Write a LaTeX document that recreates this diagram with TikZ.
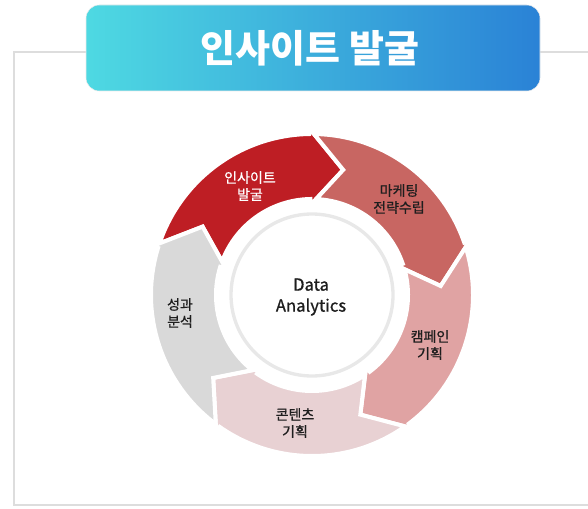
\documentclass[tikz,border=0pt]{standalone}
\usepackage{fontspec}
\setmainfont{Noto Sans CJK KR}
\newfontfamily\labelfont[FakeBold=0.8]{Noto Sans CJK KR}
\definecolor{insight}{HTML}{BE1E24}
\definecolor{strategy}{HTML}{C86662}
\definecolor{campaign}{HTML}{E0A3A3}
\definecolor{content}{HTML}{E8D1D3}
\definecolor{analysis}{HTML}{D9D9D9}
\definecolor{bannerleft}{HTML}{4ED9E2}
\definecolor{bannerright}{HTML}{2A82D6}
\definecolor{framegray}{HTML}{DDDDDD}
\definecolor{labeltext}{HTML}{1E1E1E}
\begin{document}
\begin{tikzpicture}[x=0.75pt,y=0.75pt]
      \useasboundingbox (0,0) rectangle (588,508);
      \draw[framegray,line width=1.5pt] (600,455.5) -- (14,455.5) -- (14,3) -- (600,3);
      \shade[left color=bannerleft,right color=bannerright,rounded corners=10,draw=black!8]
        (86,417) rectangle (540,503);
      \node[font=\bfseries\fontsize{28.5}{30}\selectfont,text=white] (title) at (310,460) {인사이트 발굴};
      \begin{scope}[shift={(312,213)}]
        \foreach \tip/\col in {76/insight,4/strategy,-68/campaign,-140/content,-212/analysis}
          \filldraw[fill=\col,draw=white,line width=3pt]
            ({\tip+85.3}:161) arc[start angle=\tip+85.3,end angle=\tip+15,radius=161]
            -- ({\tip+15}:167) -- (\tip:129) -- ({\tip+15}:90) -- ({\tip+15}:96)
            arc[start angle=\tip+15,end angle=\tip+83.5,radius=96]
            -- ({\tip+72}:129) -- cycle;
        \filldraw[fill=white,draw=black!9,line width=2.5pt] (0,0) circle (81);
      \end{scope}
      \draw[align=center,font=\labelfont\fontsize{10.5}{12.75}\selectfont,text=labeltext]
        (250,322) node[text=white] (insightlbl){인사이트\\발굴}
        (399,309) node (strategylbl){마케팅\\전략수립}
        (430,163) node (campaignlbl){캠페인\\기획}
        (295,85) node (contentlbl){콘텐츠\\기획}
        (180,195) node (analysislbl){성과\\분석}
        (311,211) node[font=\labelfont\fontsize{12.5}{15.75}\selectfont] (datalbl){Data\\Analytics};
    \end{tikzpicture}
\end{document}
